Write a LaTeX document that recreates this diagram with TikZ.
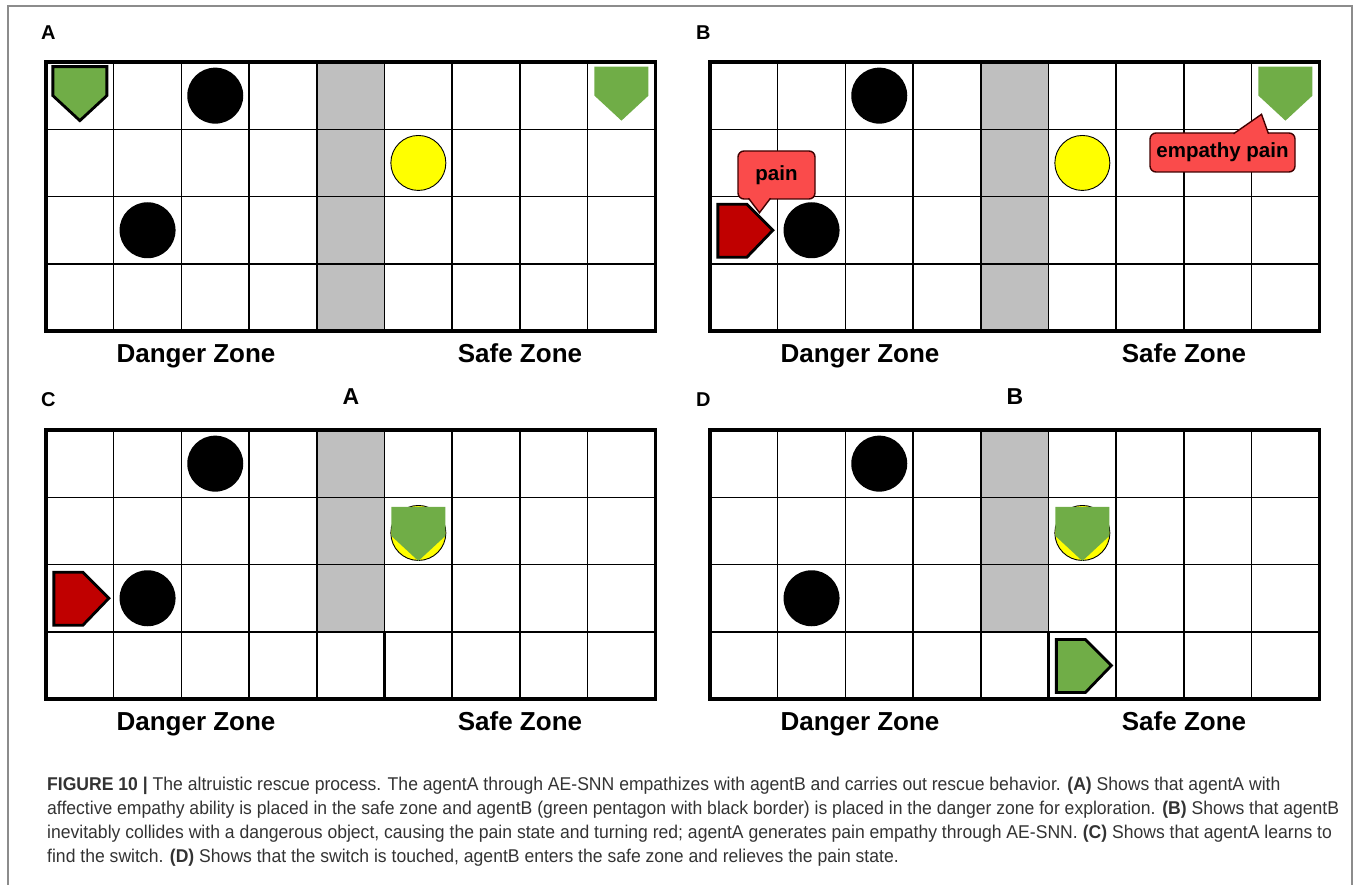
\documentclass[tikz,border=0pt]{standalone}
\usepackage{fontspec}
\setmainfont{Liberation Sans}
\newfontfamily\capfont[FakeStretch=0.95]{Liberation Sans}
\usetikzlibrary{positioning}
\definecolor{AgentGreen}{HTML}{70AD47}
\definecolor{AgentRed}{HTML}{C00000}
\definecolor{WallGray}{HTML}{BFBFBF}
\definecolor{GoalYellow}{HTML}{FFFF00}
\definecolor{PainRed}{HTML}{FA4B4B}
\definecolor{FrameGray}{HTML}{8C8C8C}
\definecolor{CapText}{HTML}{333333}
\newcommand{\cellw}{67.7}
\newcommand{\cellh}{67.3}

\begin{document}
\begin{tikzpicture}[x=1pt,y=-1pt]
    \tikzset{
      wall/.style={fill=WallGray},
      gridline/.style={line width=1.5pt},
      border/.style={line width=3.6pt},
      switchcell/.style={line width=2.4pt},
      hazard/.style={circle,fill=black,minimum size=56pt,inner sep=0pt},
      goal/.style={circle,fill=GoalYellow,draw=black,line width=0.9pt,minimum size=55pt,inner sep=0pt},
      zone/.style={font=\bfseries\fontsize{26}{30}\selectfont,anchor=base},
      panel/.style={font=\bfseries\fontsize{20}{24}\selectfont,anchor=west,inner sep=0pt},
      title/.style={font=\bfseries\fontsize{23}{27}\selectfont,inner sep=0pt},
      bubble/.style={draw=black!75!red,line width=1.4pt,fill=PainRed,rounded corners=6pt,
        inner sep=0pt,font=\bfseries\fontsize{20.5}{24}\selectfont},
      tail/.style={fill=PainRed,draw=black!75!red,line width=1.4pt},
      agentdown/.pic={\path[pic actions] (-27,-29) -- (27,-29) -- (27,0) -- (0,25) -- (-27,0) -- cycle;},
      agentright/.pic={\path[pic actions] (-26,-26) -- (3,-26) -- (29,0) -- (3,27) -- (-26,27) -- cycle;}
    }
    \useasboundingbox (0,0) rectangle (1357,885);
    \draw[FrameGray,line width=1.4pt] (8,885) -- (8,6) -- (1352,6) -- (1352,885);

    % the four grids
    \foreach \px/\py/\rows in {46/62/4,710/62/4,46/430/3,710/430/3} {
      \begin{scope}[shift={(\px,\py)}]
        \fill[wall] (4*\cellw,0) rectangle (5*\cellw,\rows*\cellh);
        \foreach \c in {1,...,8} \draw[gridline] (\c*\cellw,0) -- (\c*\cellw,4*\cellh);
        \foreach \r in {1,2,3} \draw[gridline] (0,\r*\cellh) -- (9*\cellw,\r*\cellh);
        \ifnum\rows=3 \draw[switchcell] (4*\cellw,3*\cellh) rectangle (5*\cellw,4*\cellh); \fi
        \draw[border] (0,0) rectangle (9*\cellw,4*\cellh);
        \node[zone] (danger-\px-\py) at (150,300) {Danger Zone};
        \node[zone] (safe-\px-\py) at (474,300) {Safe Zone};
      \end{scope}
    }

    \node[panel] (labA) at (41,33) {A};
    \node[panel] (labB) at (696,33) {B};
    \node[panel] (labC) at (41,400) {C};
    \node[panel] (labD) at (696,400) {D};
    \node[title] (titleA) at (351,397) {A};
    \node[title] (titleB) at (1015,397) {B};

    % panel A
    \begin{scope}[shift={(46,62)}]
      \pic[fill=AgentGreen,draw=black,line width=2.8pt] at (0.5*\cellw,0.5*\cellh) {agentdown};
      \node[hazard] (hazA1) at (2.5*\cellw,0.5*\cellh) {};
      \node[hazard] (hazA2) at (1.5*\cellw,2.5*\cellh) {};
      \node[goal] (goalA) at (5.5*\cellw,1.5*\cellh) {};
      \pic[fill=AgentGreen] at (8.5*\cellw,0.5*\cellh) {agentdown};
    \end{scope}

    % panel B
    \begin{scope}[shift={(710,62)}]
      \node[hazard] (hazB1) at (2.5*\cellw,0.5*\cellh) {};
      \node[hazard] (hazB2) at (1.5*\cellw,2.5*\cellh) {};
      \node[goal] (goalB) at (5.5*\cellw,1.5*\cellh) {};
      \pic[fill=AgentRed,draw=black,line width=2.8pt] at (0.5*\cellw,2.5*\cellh) {agentright};
      \pic[fill=AgentGreen] at (8.5*\cellw,0.5*\cellh) {agentdown};
      \node[bubble,minimum width=77pt,minimum height=48pt] (pain) at (66.5,113) {pain};
      \path[tail] ([xshift=-28pt,yshift=1.5pt]pain.south) -- ([xshift=-17pt,yshift=-13pt]pain.south)
        -- ([xshift=-6pt,yshift=1.5pt]pain.south);
      \node[bubble,minimum width=145pt,minimum height=39pt] (empathy) at (512.5,90.5) {empathy pain};
      \path[tail] ([xshift=11pt,yshift=-1.5pt]empathy.north) -- ([xshift=39pt,yshift=18pt]empathy.north)
        -- ([xshift=46pt,yshift=-1.5pt]empathy.north);
    \end{scope}

    % panel C
    \begin{scope}[shift={(46,430)}]
      \node[hazard] (hazC1) at (2.5*\cellw,0.5*\cellh) {};
      \node[hazard] (hazC2) at (1.5*\cellw,2.5*\cellh) {};
      \pic[fill=AgentRed,draw=black,line width=2.8pt] at (0.5*\cellw,2.5*\cellh) {agentright};
      \node[goal] (goalC) at (5.5*\cellw,1.5*\cellh+2) {};
      \pic[fill=AgentGreen] at (5.5*\cellw,1.5*\cellh+5) {agentdown};
    \end{scope}

    % panel D
    \begin{scope}[shift={(710,430)}]
      \node[hazard] (hazD1) at (2.5*\cellw,0.5*\cellh) {};
      \node[hazard] (hazD2) at (1.5*\cellw,2.5*\cellh) {};
      \node[goal] (goalD) at (5.5*\cellw,1.5*\cellh+2) {};
      \pic[fill=AgentGreen] at (5.5*\cellw,1.5*\cellh+5) {agentdown};
      \pic[fill=AgentGreen,draw=black,line width=2.8pt] at (5.5*\cellw,3.5*\cellh) {agentright};
    \end{scope}

    % caption
    \node[anchor=north west,inner sep=0pt,align=left,text=CapText,
      font=\capfont\fontsize{18.5}{24}\selectfont] (caption) at (47,777) {%
      \textbf{FIGURE 10 |} The altruistic rescue process. The agentA through AE-SNN empathizes with agentB and carries out rescue behavior. \textbf{(A)} Shows that agentA with\\
      affective empathy ability is placed in the safe zone and agentB (green pentagon with black border) is placed in the danger zone for exploration. \textbf{(B)} Shows that agentB\\
      inevitably collides with a dangerous object, causing the pain state and turning red; agentA generates pain empathy through AE-SNN. \textbf{(C)} Shows that agentA learns to\\
      find the switch. \textbf{(D)} Shows that the switch is touched, agentB enters the safe zone and relieves the pain state.};
  \end{tikzpicture}
\end{document}
